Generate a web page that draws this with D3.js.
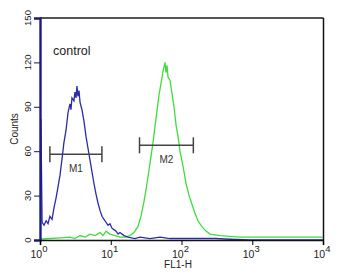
<script src="https://cdnjs.cloudflare.com/ajax/libs/d3/7.8.5/d3.min.js"></script>
<style>
  body { margin: 0; background: #fff; }
  text { font-family: "Liberation Sans", Arial, sans-serif; }
</style>
<body>
<svg id="vis"></svg>
<script>
  var visWidth = 338
  var visHeight = 275

  // control (blue) histogram: FL1-H value, counts
  var blueFL1 = [1.03, 1.07, 1.14, 1.22, 1.30, 1.38, 1.48, 1.58, 1.68, 1.80, 1.92, 2.05, 2.18, 2.33, 2.49, 2.65, 2.74, 2.83, 3.02, 3.12, 3.23, 3.33, 3.44, 3.56, 3.68, 3.92, 4.19, 4.47, 4.77, 5.09, 5.43, 5.80, 6.19, 6.60, 7.05, 7.52, 8.03, 8.57, 9.14, 9.76, 10.4, 11.1, 11.9, 12.7, 13.5, 15.4, 17.5, 22.0, 25.9, 35.9, 49.7, 68.8, 95.2, 132, 183, 297, 484, 929, 10000]
  var blueCounts = [82, 12, 10, 13, 11, 16, 14, 22, 28, 36, 44, 55, 66, 74, 86, 92, 88, 96, 94, 100, 96, 104, 97, 101, 93, 88, 80, 70, 62, 54, 46, 38, 31, 25, 20, 16, 14, 12, 10, 11, 8, 7, 6, 4, 5, 3, 2, 1, 2, 1, 2, 1, 1, 1, 1, 1, 0.5, 0, 0]

  // sample (green) histogram
  var greenFL1 = [1.0, 1.38, 1.92, 2.65, 3.12, 3.68, 4.33, 5.09, 5.98, 7.05, 7.78, 8.57, 9.76, 11.5, 13.5, 15.9, 18.7, 21.3, 24.2, 26.7, 29.5, 32.5, 35.9, 39.6, 43.6, 48.1, 51.4, 54.8, 58.5, 60.4, 62.4, 64.5, 68.8, 73.4, 78.4, 83.6, 89.3, 95.2, 105, 116, 128, 141, 155, 171, 194, 222, 253, 350, 674, 1290, 2460, 4700, 10000]
  var greenCounts = [0.5, 1, 1.5, 2, 1, 3, 2, 4, 3, 5, 3, 6, 4, 3, 2, 2, 3, 5, 9, 16, 26, 38, 52, 66, 82, 98, 106, 114, 120, 113, 118, 110, 108, 99, 90, 78, 70, 60, 50, 38, 30, 24, 18, 13, 9, 6, 4, 3, 2, 2, 2, 2, 2]

  // gate markers
  var markerNames = ['M1', 'M2']
  var markerStart = [1.38, 25.5]
  var markerEnd = [7.5, 147]
  var markerLevel = [58, 64]

  var yTicks = [0, 30, 60, 90, 120, 150]
  var xTicks = [1, 10, 100, 1000, 10000]
  var xExponents = ['0', '1', '2', '3', '4']

  var svg = d3.select('#vis')
    .attr('width', visWidth)
    .attr('height', visHeight)

  var x = d3.scaleLog().domain([1, 10000]).range([40, 323])
  var y = d3.scaleLinear().domain([0, 150]).range([240, 18])

  // frame (top and right)
  svg.append('line')
    .attr('x1', 40).attr('x2', 323.5).attr('y1', 18).attr('y2', 18)
    .attr('stroke', '#555').attr('stroke-width', 2)
  svg.append('line')
    .attr('x1', 323.5).attr('x2', 323.5).attr('y1', 18).attr('y2', 240)
    .attr('stroke', '#111').attr('stroke-width', 1.5)

  // histograms
  var line = d3.line().x(d => x(d[0])).y(d => y(d[1]))
  svg.append('path')
    .datum(greenFL1.map((v, i) => [v, greenCounts[i]]))
    .attr('d', line)
    .attr('fill', 'none')
    .attr('stroke', '#3fdc3f')
    .attr('stroke-width', 1.3)
  svg.append('path')
    .datum(blueFL1.map((v, i) => [v, blueCounts[i]]))
    .attr('d', line)
    .attr('fill', 'none')
    .attr('stroke', '#2b2ba6')
    .attr('stroke-width', 1.3)

  // y axis
  var yAxis = svg.append('g').attr('transform', 'translate(40,0)')
  yAxis.call(d3.axisLeft(y).tickValues(d3.range(0, 151, 6)).tickSize(4).tickFormat(''))
  yAxis.call(d3.axisLeft(y).tickValues(yTicks).tickSize(6).tickFormat(''))
  yAxis.select('.domain').attr('stroke', '#1a1a8c').attr('stroke-width', 2.4)
  yAxis.selectAll('.tick line').attr('stroke', '#1a1a5a')

  svg.selectAll('.ylab')
    .data(yTicks)
    .enter().append('text')
    .attr('class', 'ylab')
    .attr('transform', d => 'translate(31,' + y(d) + ') rotate(-90)')
    .attr('text-anchor', 'middle')
    .attr('font-size', 9.5)
    .attr('fill', '#222')
    .text(d => d)

  // x axis
  var xAxis = svg.append('g').attr('transform', 'translate(0,240)')
  var minors = []
  for (var e = 0; e < 4; e++) {
    for (var m = 2; m < 10; m++) minors.push(m * Math.pow(10, e))
  }
  xAxis.call(d3.axisBottom(x).tickValues(minors).tickSize(3).tickFormat(''))
  xAxis.call(d3.axisBottom(x).tickValues(xTicks).tickSize(5).tickFormat(''))
  xAxis.select('.domain').attr('stroke', '#111').attr('stroke-width', 1.6)

  var xl = svg.selectAll('.xlab')
    .data(xTicks)
    .enter().append('text')
    .attr('class', 'xlab')
    .attr('x', d => x(d) - 1)
    .attr('y', 258)
    .attr('text-anchor', 'middle')
    .attr('font-size', 10.5)
    .attr('fill', '#222')
  xl.append('tspan').text('10')
  xl.append('tspan').attr('dy', -6).attr('font-size', 9.5).text((d, i) => xExponents[i])

  svg.append('text')
    .attr('x', 178).attr('y', 268)
    .attr('text-anchor', 'middle')
    .attr('font-size', 10)
    .attr('fill', '#222')
    .text('FL1-H')

  svg.append('text')
    .attr('transform', 'translate(18,129) rotate(-90)')
    .attr('text-anchor', 'middle')
    .attr('font-size', 10)
    .attr('fill', '#222')
    .text('Counts')

  svg.append('text')
    .attr('x', 53).attr('y', 55)
    .attr('font-size', 12.5)
    .attr('fill', '#222')
    .text('control')

  // markers
  markerNames.forEach(function(name, i) {
    var x1 = x(markerStart[i]), x2 = x(markerEnd[i]), yy = y(markerLevel[i])
    var g = svg.append('g').attr('stroke', '#444').attr('stroke-width', 1.5)
    g.append('line').attr('x1', x1).attr('x2', x2).attr('y1', yy).attr('y2', yy)
    g.append('line').attr('x1', x1).attr('x2', x1).attr('y1', yy - 8).attr('y2', yy + 8)
    g.append('line').attr('x1', x2).attr('x2', x2).attr('y1', yy - 8).attr('y2', yy + 8)
    svg.append('text')
      .attr('x', (x1 + x2) / 2).attr('y', yy + 18)
      .attr('text-anchor', 'middle')
      .attr('font-size', 10)
      .attr('fill', '#333')
      .text(name)
  })
</script>
</body>
